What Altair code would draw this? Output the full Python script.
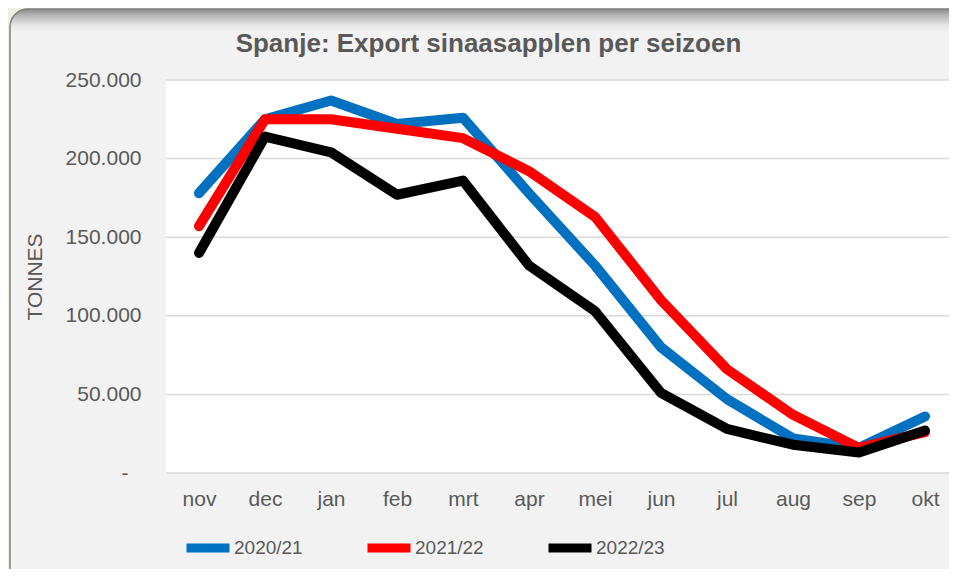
import altair as alt
import pandas as pd

months = ["nov", "dec", "jan", "feb", "mrt", "apr", "mei", "jun", "jul", "aug", "sep", "okt"]
seasons = ["2020/21", "2021/22", "2022/23"]
s2020 = [178000, 225000, 237000, 222000, 226000, 178000, 132000, 80000, 47000, 22000, 16000, 36000]
s2021 = [157000, 225000, 225000, 219000, 213000, 192000, 163000, 110000, 66000, 37000, 16000, 26000]
s2022 = [140000, 214000, 204000, 177000, 186000, 132000, 103000, 51000, 28000, 18000, 13000, 27000]
colors = ["#0070C0", "#FF0000", "#000000"]
y_ticks = [0, 50000, 100000, 150000, 200000, 250000]

rows = []
for season, vals in zip(seasons, [s2020, s2021, s2022]):
    for m, v in zip(months, vals):
        rows.append({"maand": m, "seizoen": season, "tonnes": v})
df = pd.DataFrame(rows)

W, H = 783, 393
FONT = "Liberation Sans"
TXT = "#595959"

one = pd.DataFrame({"k": [0]})

yscale = alt.Scale(domain=[0, 250000], nice=False, zero=True)
yaxis = alt.Axis(
    title="TONNES", values=y_ticks, ticks=False, domain=False, grid=False,
    labelExpr="datum.value === 0 ? '-' : replace(format(datum.value, ','), ',', '.')",
    labelPadding={"condition": {"test": "datum.value === 0", "value": 38}, "value": 25},
    labelFontSize=21, labelColor=TXT, labelFont=FONT, labelBaseline="middle",
    titleFontSize=21, titleColor=TXT, titleFont=FONT, titleFontWeight="normal",
    titleX=-131, titleY=196.5, titleAngle=270, titleAlign="center",
    titleBaseline="middle", zindex=1,
)

panel = alt.Chart(one).mark_rect(
    fill=alt.LinearGradient(
        gradient="linear",
        stops=[
            alt.GradientStop(color="#8a8a8a", offset=0),
            alt.GradientStop(color="#b8b8b8", offset=0.012),
            alt.GradientStop(color="#e6e6e6", offset=0.028),
            alt.GradientStop(color="#f2f2f2", offset=0.04),
            alt.GradientStop(color="#f2f2f2", offset=1),
        ],
        x1=0, x2=0, y1=0, y2=1,
    ),
    stroke="#7f7f7f",
    strokeWidth=1.5,
    cornerRadius=18,
).encode(x=alt.value(-156), x2=alt.value(830), y=alt.value(-71), y2=alt.value(505))

plotbg = alt.Chart(one).mark_rect(fill="white").encode(
    x=alt.value(0), x2=alt.value(W), y=alt.value(0), y2=alt.value(H)
)

grid = alt.Chart(pd.DataFrame({"tonnes": y_ticks})).mark_rule(
    color="#d9d9d9", strokeWidth=1.5
).encode(y=alt.Y("tonnes:Q", scale=yscale, axis=yaxis))

lines = alt.Chart(df).mark_line(
    strokeWidth=10, strokeCap="round", strokeJoin="round"
).encode(
    x=alt.X(
        "maand:N",
        sort=months,
        scale=alt.Scale(type="point", range=[33, 33 + 11 * 66], padding=0),
        axis=alt.Axis(
            title=None, labelAngle=0, ticks=False, domain=False, grid=False,
            labelPadding=15, labelFontSize=21, labelColor=TXT, labelFont=FONT,
            labelBaseline="top", zindex=1,
        ),
    ),
    y=alt.Y("tonnes:Q", scale=yscale, axis=yaxis),
    color=alt.Color(
        "seizoen:N",
        sort=seasons,
        scale=alt.Scale(domain=seasons, range=colors),
        legend=alt.Legend(
            title=None, orient="none", legendX=16, legendY=442, direction="horizontal",
            symbolType="stroke", symbolSize=1849, symbolStrokeWidth=9,
            labelFontSize=19, labelColor=TXT, labelFont=FONT, labelOffset=0,
            columnPadding=46, padding=0,
        ),
    ),
)

chart = alt.layer(panel, plotbg, grid, lines).properties(
    width=W,
    height=H,
    autosize=alt.AutoSizeParams(type="none"),
    padding={"left": 158, "top": 72, "right": 0, "bottom": 96},
    background="#EBF1DE",
    title=alt.TitleParams(
        "Spanje: Export sinaasapplen per seizoen",
        font=FONT, fontSize=26, fontWeight="bold", color=TXT,
        anchor="middle", frame="group", dx=-69, dy=70, baseline="alphabetic", offset=0,
    ),
).configure_view(stroke=None)

chart.save("out.html", embed_options={"renderer": "svg", "actions": False})
